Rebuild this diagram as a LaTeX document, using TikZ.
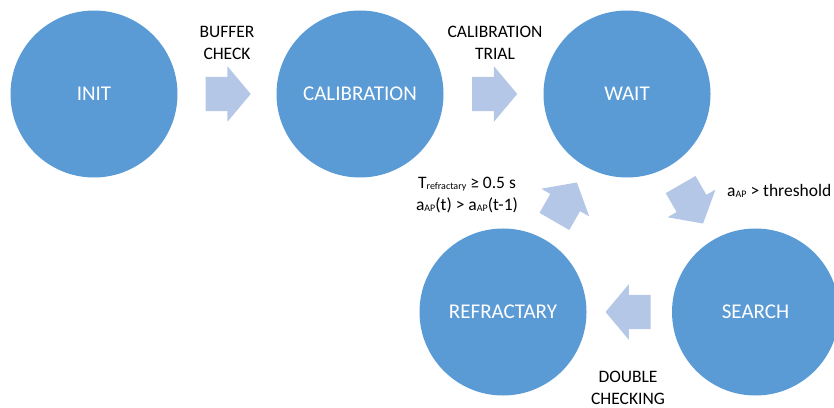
\documentclass[tikz,border=0pt]{standalone}
\usepackage{fontspec}
\setmainfont{Carlito}
\usetikzlibrary{shapes.arrows,calc}

\definecolor{stateblue}{HTML}{5B9BD5}
\definecolor{arrowblue}{HTML}{B4C7E7}

\newcommand{\lowsub}[1]{\raisebox{-1pt}{\fontsize{10}{10}\selectfont #1}}

\tikzset{
  state/.style={circle, fill=stateblue, minimum size=167pt, inner sep=0pt,
    text=white, font=\fontsize{21}{25}\selectfont},
  fatarrow/.style={single arrow, fill=arrowblue, minimum height=45pt,
    minimum width=55pt, single arrow head extend=10.5pt,
    single arrow tip angle=100, inner xsep=0pt, inner ysep=17pt},
  trans/.style={align=center, font=\fontsize{17.5}{22}\selectfont}
}

\begin{document}
\begin{tikzpicture}[x=1pt,y=1pt]
  \useasboundingbox (0,0) rectangle (834,407);

  % States
  \node[state] (init) at (94,313) {INIT};
  \node[state] (calib) at (360,313) {CALIBRATION};
  \node[state] (wait) at (627,313) {WAIT};
  \node[state] (refr) at (503,95) {REFRACTARY};
  \node[state] (search) at (755.5,95) {SEARCH};

  % Transition arrows
  \node[fatarrow, xshift=-6pt] (buf) at ($(init)!0.5!(calib)$) {};
  \node[fatarrow, xshift=-6pt] (trial) at ($(calib)!0.5!(wait)$) {};
  \node[fatarrow, rotate=-60, xshift=-6pt] (thr) at ($(wait)!0.5!(search)$) {};
  \node[fatarrow, rotate=180, xshift=-6pt] (dbl) at ($(search)!0.5!(refr)$) {};
  \node[fatarrow, rotate=60, xshift=-6pt] (back) at ($(refr)!0.5!(wait)$) {};

  % Transition labels
  \node[trans] (buflbl) at (227,364.5) {BUFFER\\CHECK};
  \node[trans] (triallbl) at (495,364.5) {CALIBRATION\\TRIAL};
  \node[trans, anchor=west, inner sep=0pt] (thrlbl) at (727,216)
    {a\lowsub{AP} > threshold};
  \node[trans] (dbllbl) at (628,19.5) {DOUBLE\\CHECKING};
  \node[trans] (backlbl) at (467,212)
    {T\lowsub{refractary} ≥ 0.5 s\\a\lowsub{AP}(t) > a\lowsub{AP}(t-1)};
\end{tikzpicture}
\end{document}
